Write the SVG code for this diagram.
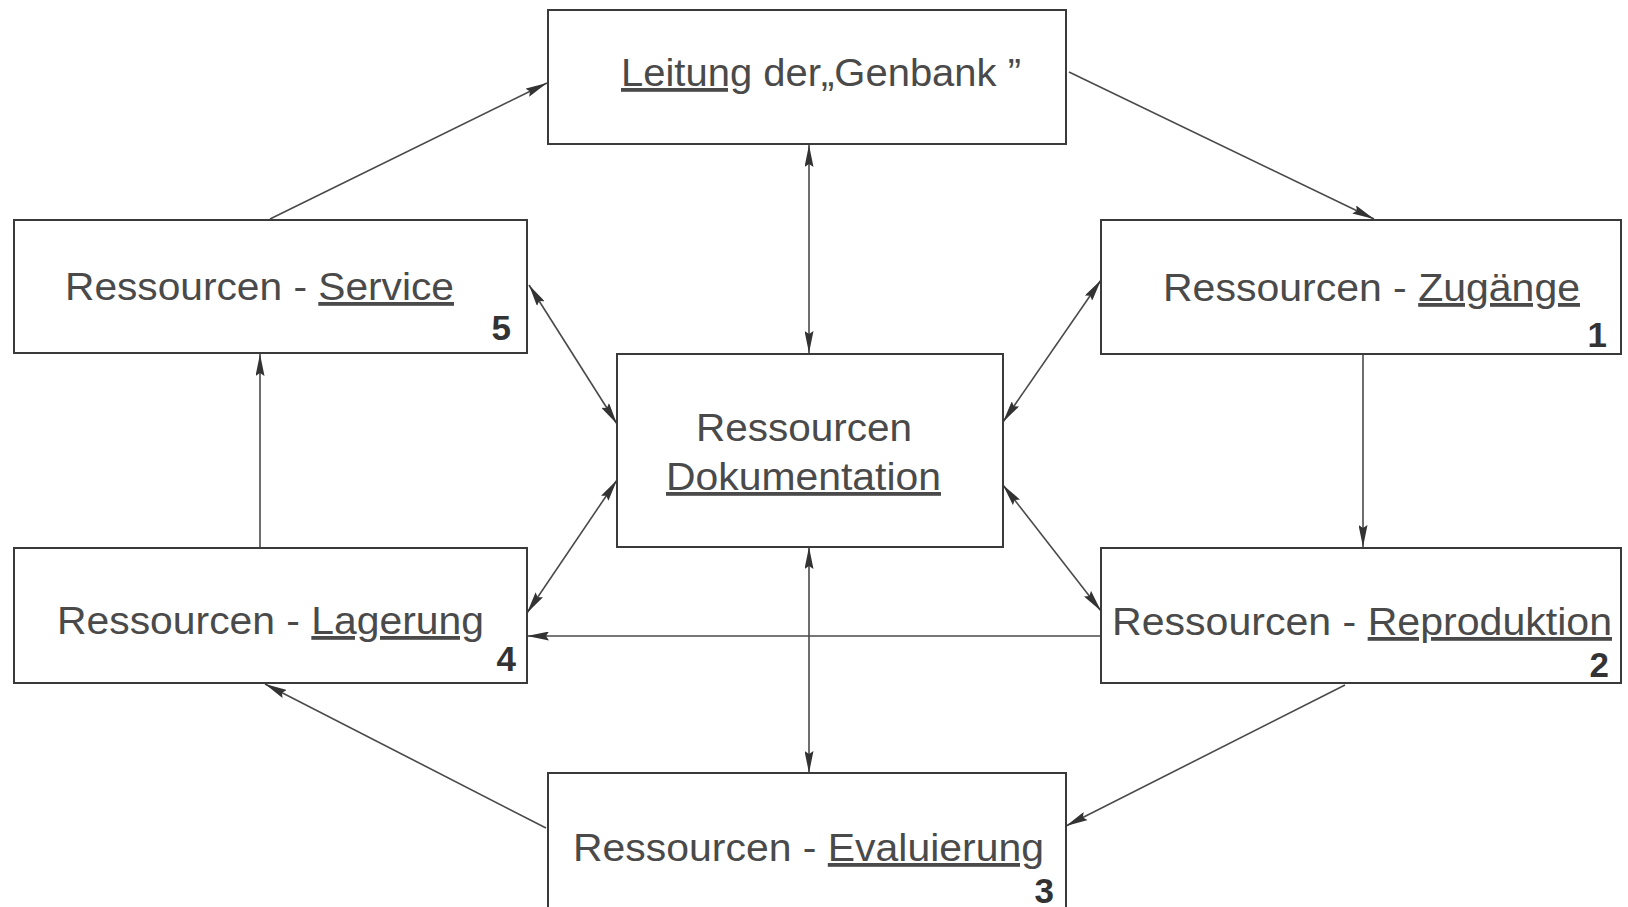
<svg xmlns="http://www.w3.org/2000/svg" width="1628" height="907" viewBox="0 0 1628 907">
<style>
.box{fill:#fff;stroke:#3a3a3a;stroke-width:2}
.t{font-family:"Liberation Sans",Arial,sans-serif;font-size:38px;fill:#4a4a4a}
.u{text-decoration:underline}
.n{font-family:"Liberation Sans",Arial,sans-serif;font-size:35px;font-weight:bold;fill:#333}
.c{stroke:#4a4a4a;stroke-width:1.6;fill:none}
.one{marker-end:url(#ah)}
.two{marker-start:url(#ah);marker-end:url(#ah)}
</style>
<defs>
<marker id="ah" viewBox="0 0 22 9" refX="22" refY="4.5" markerWidth="22" markerHeight="9" orient="auto-start-reverse" markerUnits="userSpaceOnUse">
<path d="M0,0 L22,4.5 L0,9 L3,4.5 z" fill="#333"/>
</marker>
</defs>
<rect width="1628" height="907" fill="#fff"/>
<g id="connectors">
<line class="c one" x1="270" y1="219" x2="547" y2="83"/>
<line class="c one" x1="1069" y1="72" x2="1374" y2="219"/>
<line class="c two" x1="809" y1="145" x2="809" y2="353"/>
<line class="c two" x1="529" y1="285" x2="617" y2="424"/>
<line class="c two" x1="1101" y1="280" x2="1003" y2="422"/>
<line class="c one" x1="1363" y1="354" x2="1363" y2="547"/>
<line class="c two" x1="617" y1="480" x2="527" y2="613"/>
<line class="c two" x1="1003" y1="485" x2="1101" y2="611"/>
<line class="c one" x1="1101" y1="636" x2="527" y2="636"/>
<line class="c two" x1="809" y1="547" x2="809" y2="773"/>
<line class="c one" x1="1345" y1="685" x2="1066" y2="826"/>
<line class="c one" x1="546" y1="828" x2="265" y2="684"/>
<line class="c one" x1="260" y1="547" x2="260" y2="354"/>
</g>
<g id="leitung">
<rect class="box" x="548" y="10" width="518" height="134"/>
<text class="t" x="621" y="86" textLength="400" lengthAdjust="spacingAndGlyphs"><tspan class="u">Leitung</tspan> der„Genbank ”</text>
</g>
<g id="service">
<rect class="box" x="14" y="220" width="513" height="133"/>
<text class="t" x="65" y="300" textLength="389" lengthAdjust="spacingAndGlyphs">Ressourcen - <tspan class="u">Service</tspan></text>
<text class="n" x="511" y="340" text-anchor="end">5</text>
</g>
<g id="zugaenge">
<rect class="box" x="1101" y="220" width="520" height="134"/>
<text class="t" x="1163" y="301" textLength="417" lengthAdjust="spacingAndGlyphs">Ressourcen - <tspan class="u">Zugänge</tspan></text>
<text class="n" x="1607" y="347" text-anchor="end">1</text>
</g>
<g id="dokumentation">
<rect class="box" x="617" y="354" width="386" height="193"/>
<text class="t" x="696" y="441" textLength="216" lengthAdjust="spacingAndGlyphs">Ressourcen</text>
<text class="t u" x="666" y="490" textLength="275" lengthAdjust="spacingAndGlyphs">Dokumentation</text>
</g>
<g id="lagerung">
<rect class="box" x="14" y="548" width="513" height="135"/>
<text class="t" x="57" y="634" textLength="427" lengthAdjust="spacingAndGlyphs">Ressourcen - <tspan class="u">Lagerung</tspan></text>
<text class="n" x="516" y="671" text-anchor="end">4</text>
</g>
<g id="reproduktion">
<rect class="box" x="1101" y="548" width="520" height="135"/>
<text class="t" x="1112" y="635" textLength="500" lengthAdjust="spacingAndGlyphs">Ressourcen - <tspan class="u">Reproduktion</tspan></text>
<text class="n" x="1609" y="677" text-anchor="end">2</text>
</g>
<g id="evaluierung">
<rect class="box" x="548" y="773" width="518" height="140"/>
<text class="t" x="573" y="861" textLength="471" lengthAdjust="spacingAndGlyphs">Ressourcen - <tspan class="u">Evaluierung</tspan></text>
<text class="n" x="1054" y="903" text-anchor="end">3</text>
</g>
</svg>
